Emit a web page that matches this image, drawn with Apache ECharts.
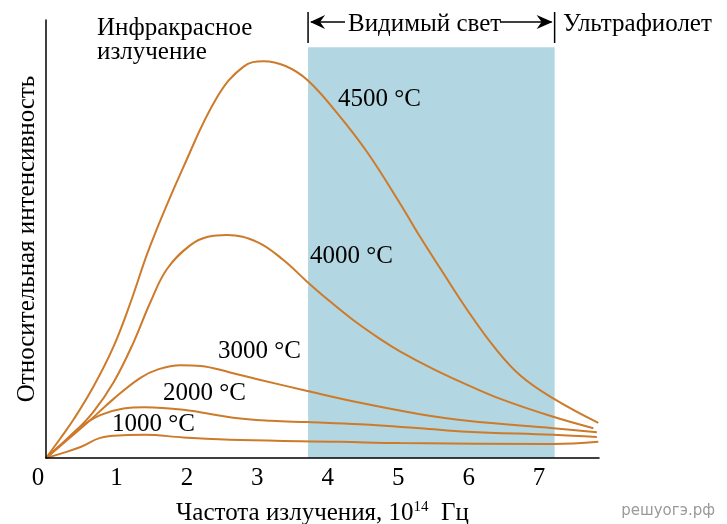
<!DOCTYPE html>
<html>
<head>
<meta charset="utf-8">
<script src="https://cdn.jsdelivr.net/npm/echarts@6/dist/echarts.min.js"></script>
<style>
html,body{margin:0;padding:0;background:#fff;}
#chart{width:727px;height:524px;}
</style>
</head>
<body>
<div id="chart"></div>
<script>
// Frequency (10^14 Hz) vs relative intensity
const xTicks = [0, 1, 2, 3, 4, 5, 6, 7];
const xMax = 7.85;
const yMax = 100;
const visibleBand = [3.72, 7.22];
const bandTop = 93.8;

const seriesNames = ['4500 °C', '4000 °C', '3000 °C', '2000 °C', '1000 °C'];

const t4500 = [[0,0],[0.2,4.4],[0.4,9.0],[0.67,16.2],[0.96,25.5],[1.2,35.5],[1.48,48.5],[1.95,66.4],[2.43,82.4],[2.8,89.3],[3.09,90.6],[3.4,89.5],[3.71,86.3],[4.13,78.8],[4.56,69.8],[5.03,58.0],[5.31,50.5],[5.6,43.2],[5.98,33.8],[6.35,25.6],[6.73,18.9],[7.2,13.6],[7.84,8.0]];
const t4000 = [[0,0],[0.39,5.7],[0.67,10.5],[0.96,17.3],[1.24,26.3],[1.48,35.5],[1.72,43.2],[2.05,48.6],[2.3,50.5],[2.57,50.9],[3.0,49.3],[3.37,45.2],[3.71,40.2],[3.99,36.3],[4.36,31.5],[4.74,27.2],[5.03,24.3],[5.5,20.3],[5.98,16.7],[6.45,13.5],[7.2,9.4],[7.77,6.8]];
const t3000 = [[0,0],[0.3,4.1],[0.63,8.7],[0.96,13.5],[1.34,18.3],[1.6,20.3],[1.91,21.2],[2.2,21.0],[2.6,19.6],[3.0,18.0],[3.71,15.3],[4.46,12.6],[5.31,10.0],[5.98,8.5],[7.2,6.8],[7.82,5.9]];
const t2000 = [[0,0],[0.25,3.6],[0.49,7.1],[0.77,9.8],[1.1,11.3],[1.4,11.6],[1.95,11.0],[2.66,9.2],[3.2,8.5],[3.71,8.2],[4.46,7.7],[5.31,6.8],[5.98,6.0],[7.2,5.3],[7.82,4.8]];
const t1000 = [[0,0],[0.21,1.0],[0.49,2.5],[0.77,4.6],[1.1,5.2],[1.4,5.3],[1.95,4.7],[2.76,4.1],[4.18,3.7],[5.03,3.4],[7.2,3.2],[7.84,3.7]];
const seriesData = [t4500, t4000, t3000, t2000, t1000];

const curveLabels = [
  {text:'4500 °C', x:338, y:98},
  {text:'4000 °C', x:310, y:255},
  {text:'3000 °C', x:218, y:350},
  {text:'2000 °C', x:163, y:392},
  {text:'1000 °C', x:112, y:423}
];

const SERIF = '"Liberation Serif", "Times New Roman", serif';
const LINE = '#cd7a2a';
const BLUE = '#b3d7e2';

const chart = echarts.init(document.getElementById('chart'), null, {renderer:'canvas'});

const series = [{
  type:'line', data:[], z:1, silent:true,
  markArea:{silent:true, itemStyle:{color:BLUE, opacity:1},
    data:[[{xAxis:visibleBand[0], yAxis:0},{xAxis:visibleBand[1], yAxis:bandTop}]]}
}];
seriesData.forEach((d,i)=>{
  series.push({name:seriesNames[i], type:'line', data:d, smooth:0.4, showSymbol:false,
    z:3, lineStyle:{color:LINE, width:2}, itemStyle:{color:LINE}});
});

chart.setOption({
  animation:false,
  backgroundColor:'#fff',
  grid:{left:46, right:128, top:20, bottom:66, outerBoundsMode:'none', containLabel:false},
  xAxis:{type:'value', min:0, max:xMax, interval:1, z:10,
    axisLine:{show:true, lineStyle:{color:'#000', width:1.5}},
    axisTick:{show:false}, splitLine:{show:false},
    axisLabel:{margin:8, fontSize:25, fontFamily:SERIF, color:'#000',
      formatter:(v)=>{ if(!xTicks.includes(v)) return ''; return v===0 ? '{z|0}' : String(v); },
      rich:{z:{fontSize:25, fontFamily:SERIF, color:'#000', padding:[0,16,0,0]}}},
    name:'{a|Частота излучения, 10}{s|14}{a|  Гц}', nameLocation:'middle', nameGap:42,
    nameTextStyle:{rich:{a:{fontSize:25, fontFamily:SERIF, color:'#000'},
      s:{fontSize:15, fontFamily:SERIF, color:'#000', padding:[0,0,12,0]}}}
  },
  yAxis:{type:'value', min:0, max:yMax, z:10,
    axisLine:{show:true, lineStyle:{color:'#000', width:1.5}},
    axisTick:{show:false}, axisLabel:{show:false}, splitLine:{show:false},
    name:'Относительная интенсивность', nameLocation:'middle', nameGap:6,
    nameTextStyle:{fontSize:25, fontFamily:SERIF, color:'#000'}
  },
  series:series
});

const pL = chart.convertToPixel({gridIndex:0}, [visibleBand[0], 0])[0];
const pR = chart.convertToPixel({gridIndex:0}, [visibleBand[1], 0])[0];
const ay = 22;
const graphics = [
  {type:'text', left:97, top:16, style:{text:'Инфракрасное\nизлучение', font:'25px '+SERIF, fill:'#000', lineHeight:24}},
  {type:'text', left:348, top:12, style:{text:'Видимый свет', font:'25px '+SERIF, fill:'#000'}},
  {type:'text', left:563, top:12, style:{text:'Ультрафиолет', font:'25px '+SERIF, fill:'#000'}},
  {type:'line', shape:{x1:pL, y1:12, x2:pL, y2:43}, style:{stroke:'#000', lineWidth:1.5}},
  {type:'line', shape:{x1:pR, y1:12, x2:pR, y2:43}, style:{stroke:'#000', lineWidth:1.5}},
  {type:'line', shape:{x1:pL+3, y1:ay, x2:345, y2:ay}, style:{stroke:'#000', lineWidth:1.5}},
  {type:'polygon', shape:{points:[[pL+2,ay],[pL+17,ay-7],[pL+12,ay],[pL+17,ay+7]]}, style:{fill:'#000'}},
  {type:'line', shape:{x1:500, y1:ay, x2:pR-3, y2:ay}, style:{stroke:'#000', lineWidth:1.5}},
  {type:'polygon', shape:{points:[[pR-2,ay],[pR-18,ay-7],[pR-13,ay],[pR-18,ay+7]]}, style:{fill:'#000'}},
  {type:'text', right:12, top:504, style:{text:'решуогэ.рф', font:'15px "DejaVu Sans", sans-serif', fill:'#9a9a9a'}}
];
curveLabels.forEach(l=>{
  graphics.push({type:'text', left:l.x, top:l.y-11, z:20, style:{text:l.text, font:'25px '+SERIF, fill:'#000'}});
});
chart.setOption({graphic:graphics});
</script>
</body>
</html>
